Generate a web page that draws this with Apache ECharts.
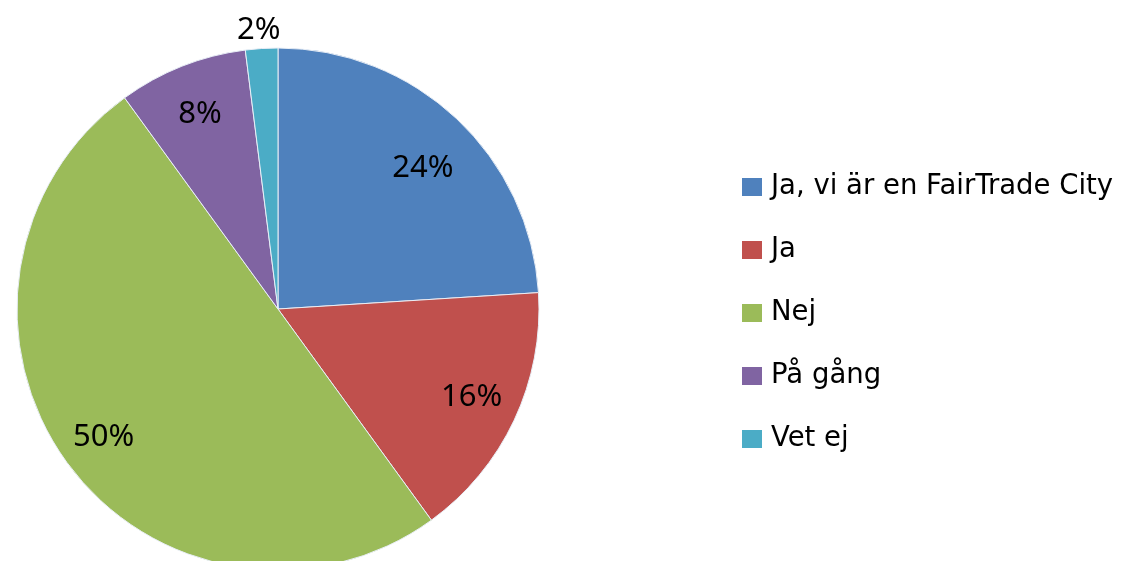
<!DOCTYPE html>
<html>
<head>
<meta charset="utf-8">
<script src="https://cdn.jsdelivr.net/npm/echarts@6/dist/echarts.min.js"></script>
<style>
html,body{margin:0;padding:0;background:#fff;}
#main{width:1126px;height:561px;}
</style>
</head>
<body>
<div id="main"></div>
<script>
const categories = ['Ja, vi är en FairTrade City', 'Ja', 'Nej', 'På gång', 'Vet ej'];
const values = [24, 16, 50, 8, 2];
const colors = ['#4F81BD', '#C0504D', '#9BBB59', '#8064A2', '#4BACC6'];

const chart = echarts.init(document.getElementById('main'));
const R = 261;
const labelOffsets = [[0, 14], [2, -2], [-3, 4], [0, 2], [-6, -67]];
const fillData = categories.map((c, i) => ({ name: c, value: values[i], itemStyle: { color: colors[i] } }));
const labelData = categories.map((c, i) => ({ name: c, value: values[i], label: { offset: labelOffsets[i] } }));
chart.setOption({
  animation: false,
  legend: {
    orient: 'vertical',
    left: 742,
    top: 173,
    padding: 0,
    itemWidth: 20,
    itemHeight: 18,
    itemGap: 35,
    icon: 'rect',
    itemStyle: { borderWidth: 0 },
    data: categories.map((c, i) => ({ name: c, itemStyle: { color: colors[i], borderWidth: 0 } })),
    textStyle: { fontFamily: 'DejaVu Sans', fontSize: 27.5, color: '#000', lineHeight: 26, padding: [0, 0, 0, 4] },
    selectedMode: false
  },
  series: [
    {
      type: 'pie',
      center: [278, 309],
      radius: [0, R],
      startAngle: 90,
      clockwise: true,
      silent: true,
      label: { show: false },
      labelLine: { show: false },
      itemStyle: { borderColor: '#e8eef6', borderWidth: 1 },
      data: fillData
    },
    {
      type: 'pie',
      center: [278, 309],
      radius: [R * 0.6, R],
      startAngle: 90,
      clockwise: true,
      silent: true,
      legendHoverLink: false,
      itemStyle: { color: 'rgba(0,0,0,0)' },
      label: {
        show: true,
        position: 'inside',
        formatter: '{d}%',
        fontFamily: 'Noto Sans',
        fontSize: 31,
        color: '#000'
      },
      labelLine: { show: false },
      data: labelData
    }
  ]
});
</script>
</body>
</html>
